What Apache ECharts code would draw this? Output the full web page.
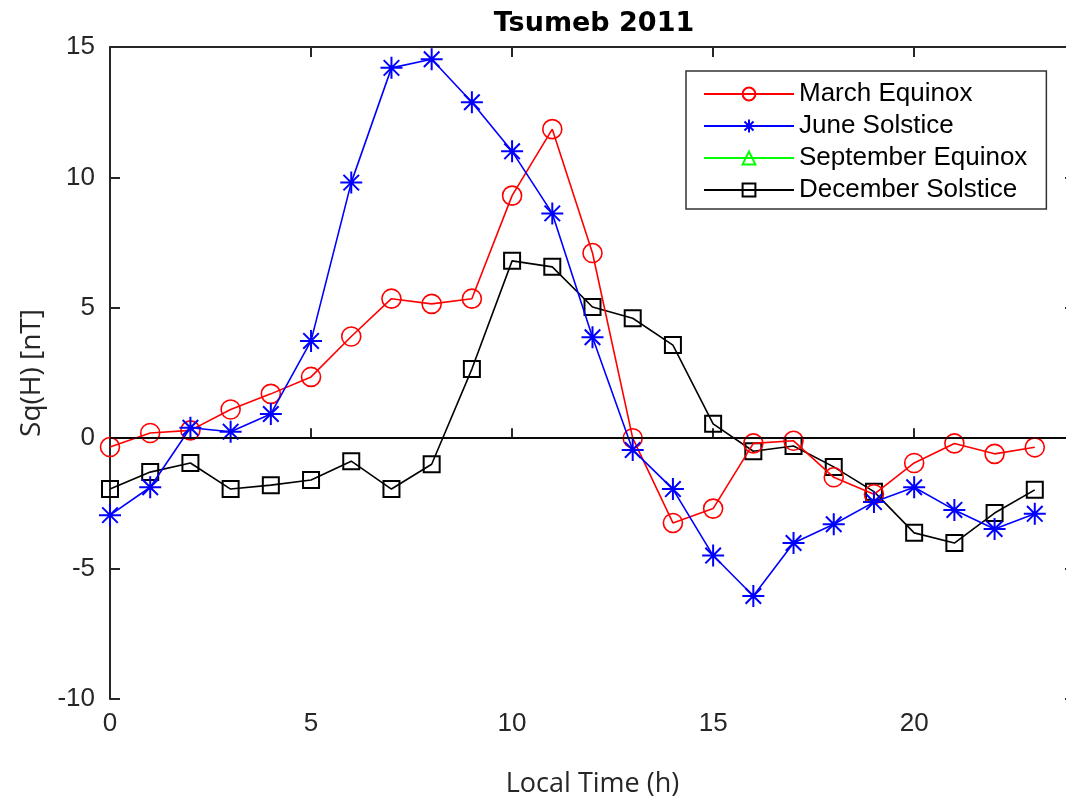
<!DOCTYPE html>
<html>
<head>
<meta charset="utf-8">
<script src="https://cdn.jsdelivr.net/npm/echarts@6/dist/echarts.min.js"></script>
<style>html,body{margin:0;padding:0;background:#fff;overflow:hidden;}#c{width:1075px;height:804px;}</style>
</head>
<body>
<div id="c"></div>
<script>
const hours = [0,1,2,3,4,5,6,7,8,9,10,11,12,13,14,15,16,17,18,19,20,21,22,23];
const marchEquinox = [-0.34,0.2,0.3,1.1,1.7,2.35,3.9,5.35,5.15,5.35,9.3,11.85,7.1,0.0,-3.25,-2.7,-0.2,-0.1,-1.5,-2.15,-0.95,-0.2,-0.6,-0.35];
const juneSolstice = [-2.95,-1.88,0.4,0.25,0.93,3.73,9.8,14.2,14.53,12.88,11.0,8.62,3.87,-0.45,-1.95,-4.5,-6.05,-4.02,-3.3,-2.45,-1.88,-2.75,-3.48,-2.9];
const septemberEquinox = [];
const decemberSolstice = [-1.95,-1.3,-0.95,-1.95,-1.8,-1.6,-0.88,-1.95,-1.0,2.65,6.8,6.57,5.03,4.6,3.57,0.55,-0.5,-0.3,-1.1,-2.05,-3.63,-4.02,-2.87,-1.98];
const seriesNames = ['March Equinox','June Solstice','September Equinox','December Solstice'];

const pair = arr => arr.map((v,i)=>[hours[i],v]);
const starPath = 'path://M10,0L10,20M0,10L20,10M2.93,2.93L17.07,17.07M2.93,17.07L17.07,2.93';
const axisColor = '#262626';
const chart = echarts.init(document.getElementById('c'));
chart.setOption({
  backgroundColor:'#fff',
  animation:false,
  title:{text:'Tsumeb 2011',left:589,top:5,textAlign:'center',
    textStyle:{fontFamily:'DejaVu Sans',fontWeight:'bold',fontSize:27,color:'#000'}},
  legend:{
    left:686, top:71, orient:'vertical', itemWidth:90, itemHeight:16, itemGap:6,
    padding:[10,19,6,17], borderColor:'#333', borderWidth:1.5, backgroundColor:'#fff',
    textStyle:{fontFamily:'Liberation Sans',fontSize:26,lineHeight:24,color:'#000'},
    data:seriesNames
  },
  grid:{left:110,right:0,top:47,bottom:105},
  xAxis:[{
    type:'value',min:0,max:24,interval:5,
    name:'Local Time (h)',nameLocation:'middle',nameGap:72,
    nameTextStyle:{fontFamily:'Open Sans',fontSize:27,color:'#262626'},
    axisLine:{show:true,lineStyle:{color:axisColor,width:2}},
    axisTick:{show:true,inside:true,length:10,lineStyle:{color:axisColor,width:2}},
    axisLabel:{fontFamily:'Liberation Sans',fontSize:26,color:axisColor,margin:12,showMaxLabel:false},
    splitLine:{show:false}
  },{
    type:'value',min:0,max:24,interval:5,position:'top',
    axisLine:{show:true,onZero:false,lineStyle:{color:axisColor,width:2}},
    axisTick:{show:true,inside:true,length:10,lineStyle:{color:axisColor,width:2}},
    axisLabel:{show:false},splitLine:{show:false}
  }],
  yAxis:[{
    type:'value',min:-10,max:15,interval:5,
    name:'Sq(H) [nT]',nameLocation:'middle',nameGap:64,
    nameTextStyle:{fontFamily:'Open Sans',fontSize:28,color:'#262626'},
    axisLine:{show:true,onZero:false,lineStyle:{color:axisColor,width:2}},
    axisTick:{show:true,inside:true,length:10,lineStyle:{color:axisColor,width:2}},
    axisLabel:{fontFamily:'Liberation Sans',fontSize:26,color:axisColor,margin:15},
    splitLine:{show:false}
  },{
    type:'value',min:-10,max:15,interval:5,position:'right',
    axisLine:{show:true,onZero:false,lineStyle:{color:axisColor,width:2}},
    axisTick:{show:true,inside:true,length:10,lineStyle:{color:axisColor,width:2}},
    axisLabel:{show:false},splitLine:{show:false}
  }],
  series:[
    {name:seriesNames[0],type:'line',data:pair(marchEquinox),symbol:'circle',symbolSize:19,
      lineStyle:{color:'#ff0000',width:1.6},itemStyle:{color:'rgba(0,0,0,0)',borderColor:'#ff0000',borderWidth:1.6},
      markLine:{silent:true,symbol:'none',label:{show:false},lineStyle:{color:'#000',width:1.6,type:'solid'},data:[{yAxis:0}]},
      z:3},
    {name:seriesNames[1],type:'line',data:pair(juneSolstice),symbol:starPath,symbolSize:22,
      lineStyle:{color:'#0000ff',width:1.6},itemStyle:{color:'rgba(0,0,0,0)',borderColor:'#0000ff',borderWidth:2},z:4},
    {name:seriesNames[2],type:'line',data:pair(septemberEquinox),symbol:'triangle',symbolSize:18,
      lineStyle:{color:'#00ff00',width:1.6},itemStyle:{color:'rgba(0,0,0,0)',borderColor:'#00ff00',borderWidth:1.6}},
    {name:seriesNames[3],type:'line',data:pair(decemberSolstice),symbol:'rect',symbolSize:16,
      lineStyle:{color:'#000',width:1.6},itemStyle:{color:'rgba(0,0,0,0)',borderColor:'#000',borderWidth:2},z:2}
  ]
});
</script>
</body>
</html>
